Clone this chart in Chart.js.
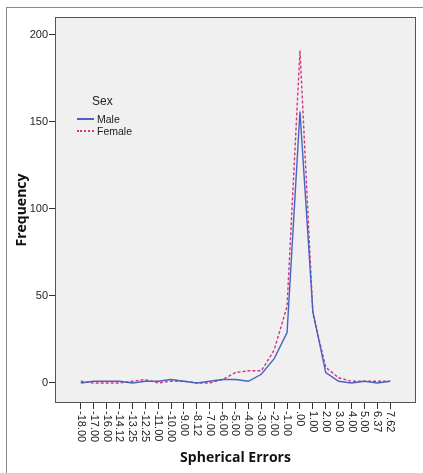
<!DOCTYPE html>
<html>
<head>
<meta charset="utf-8">
<script src="https://cdn.jsdelivr.net/npm/chart.js@4.4.1/dist/chart.umd.min.js"></script>
<style>
  body { margin: 0; background: #fff; }
  .wrap { position: relative; width: 423px; height: 473px; overflow: hidden; }
  .frame { position: absolute; left: 6px; top: 7px; width: 440px; height: 490px; border: 1px solid #8a8a8a; }
  canvas { position: absolute; left: 0; top: 0; }
  .legend { position: absolute; left: 77px; top: 94px; font-family: "Liberation Sans", Arial, sans-serif; color: #222; }
  .legend .title { font-size: 12px; margin-left: 15px; margin-bottom: 5px; }
  .legend .item { font-size: 10.5px; height: 12px; line-height: 12px; display: flex; align-items: center; }
  .legend .swatch { display: inline-block; width: 17px; height: 0; margin-right: 3px; }
</style>
</head>
<body>
<div class="wrap">
  <div class="frame"></div>
  <canvas id="chart" width="423" height="473"></canvas>
  <div class="legend">
    <div class="title">Sex</div>
    <div class="item"><span class="swatch" style="border-top:2px solid #4862c2"></span>Male</div>
    <div class="item"><span class="swatch" style="border-top:2px dotted #d0377f"></span>Female</div>
  </div>
</div>
<script>
const categories = ["-18.00", "-17.00", "-16.00", "-14.12", "-13.25", "-12.25", "-11.00", "-10.00",
  "-9.00", "-8.12", "-7.00", "-6.00", "-5.00", "-4.00", "-3.00", "-2.00", "-1.00", ".00",
  "1.00", "2.00", "3.00", "4.00", "5.00", "6.37", "7.62"];
const male =   [0, 1, 1, 1, 0, 1, 1, 2, 1, 0, 1, 2, 2, 1, 5, 14, 29, 156, 41, 6, 1, 0, 1, 0, 1];
const female = [1, 0, 0, 0, 1, 2, 0, 1, 1, 0, 0, 2, 6, 7, 7, 19, 44, 191, 40, 9, 3, 1, 1, 1, 1];
const yTicks = [0, 50, 100, 150, 200];

const toPoints = arr => arr.map((v, i) => ({ x: i, y: v }));

const plotFrame = {
  id: "plotFrame",
  beforeDraw(chart) {
    const { ctx, chartArea: a } = chart;
    ctx.save();
    ctx.fillStyle = "#f0f0f0";
    ctx.fillRect(a.left, a.top, a.right - a.left, a.bottom - a.top);
    ctx.restore();
  },
  afterDraw(chart) {
    const { ctx, chartArea: a } = chart;
    ctx.save();
    ctx.strokeStyle = "#555";
    ctx.lineWidth = 1;
    ctx.strokeRect(a.left + 0.5, a.top + 0.5, a.right - a.left - 1, a.bottom - a.top - 1);
    // x tick labels, reading top to bottom
    const xs = chart.scales.x;
    ctx.fillStyle = "#222";
    ctx.font = "11px 'Liberation Sans', Arial, sans-serif";
    ctx.textAlign = "left";
    ctx.textBaseline = "middle";
    categories.forEach((c, i) => {
      ctx.save();
      ctx.translate(xs.getPixelForValue(i), a.bottom + 8);
      ctx.rotate(Math.PI / 2);
      ctx.fillText(c, 0, 0);
      ctx.restore();
    });
    ctx.restore();
  }
};

new Chart(document.getElementById("chart"), {
  type: "line",
  data: {
    datasets: [
      {
        label: "Male",
        data: toPoints(male),
        borderColor: "#4862c2",
        borderWidth: 1.4,
        pointRadius: 0,
        tension: 0
      },
      {
        label: "Female",
        data: toPoints(female),
        borderColor: "#d0377f",
        borderWidth: 1.4,
        borderDash: [3, 2],
        pointRadius: 0,
        tension: 0
      }
    ]
  },
  options: {
    responsive: false,
    animation: false,
    layout: { padding: { left: 0, top: 17, right: 7, bottom: 0 } },
    plugins: { legend: { display: false }, tooltip: { enabled: false } },
    scales: {
      x: {
        type: "linear",
        min: -2,
        max: 26,
        afterBuildTicks: axis => { axis.ticks = categories.map((_, i) => ({ value: i })); },
        afterFit: axis => { axis.height = 70; },
        border: { display: false },
        grid: { drawOnChartArea: false, tickLength: 6, color: "#333", lineWidth: 1 },
        ticks: { display: false },
        title: {
          display: true,
          text: "Spherical Errors",
          color: "#111",
          font: { family: "'Open Sans', sans-serif", size: 14, weight: "bold" },
          padding: { bottom: 7 }
        }
      },
      y: {
        min: -11.5,
        max: 210.3,
        afterBuildTicks: axis => { axis.ticks = yTicks.map(v => ({ value: v })); },
        afterFit: axis => { axis.width = 55; },
        border: { display: false },
        grid: { drawOnChartArea: false, tickLength: 6, color: "#333", lineWidth: 1 },
        ticks: {
          color: "#222",
          padding: 1,
          font: { family: "'Liberation Sans', Arial, sans-serif", size: 11 }
        },
        title: {
          display: true,
          text: "Frequency",
          color: "#111",
          font: { family: "'Open Sans', sans-serif", size: 14, weight: "bold" },
          padding: { top: 14 }
        }
      }
    }
  },
  plugins: [plotFrame]
});
</script>
</body>
</html>
